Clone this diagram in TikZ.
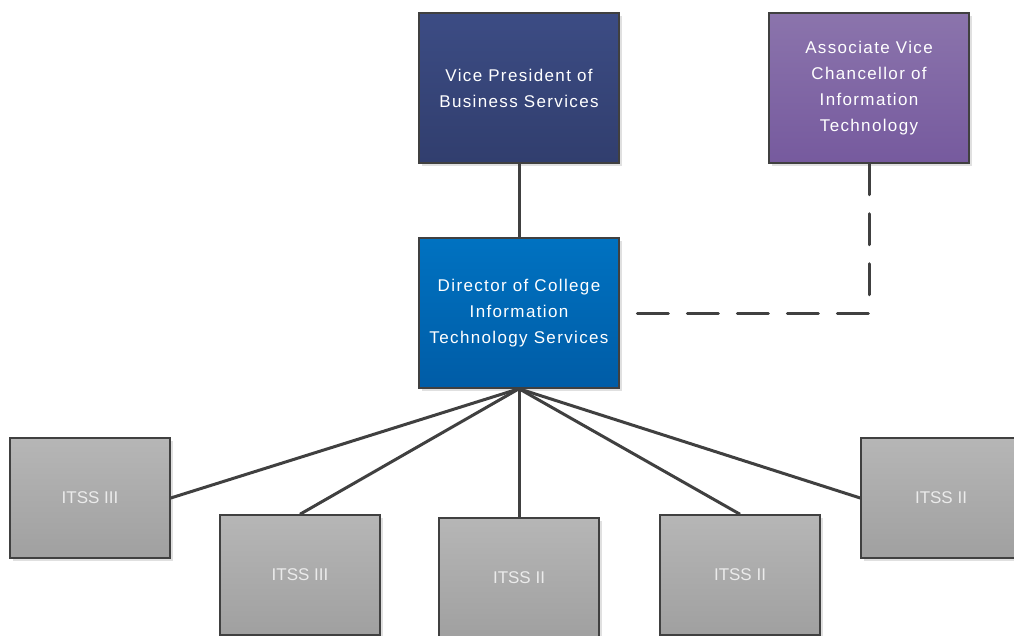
\documentclass[tikz,border=0pt]{standalone}
\usepackage{fontspec}
\setmainfont{Liberation Sans}[LetterSpace=8]
\newfontfamily\itssfont{Liberation Sans}
\usetikzlibrary{shadows}
\definecolor{vptop}{RGB}{60,76,132}
\definecolor{vpbot}{RGB}{49,62,110}
\definecolor{dirtop}{RGB}{0,114,193}
\definecolor{dirbot}{RGB}{0,92,166}
\definecolor{avtop}{RGB}{139,116,172}
\definecolor{avbot}{RGB}{118,90,158}
\definecolor{grtop}{RGB}{182,182,182}
\definecolor{grbot}{RGB}{160,160,160}
\definecolor{edge}{RGB}{64,64,64}
\tikzset{
  box/.style={rectangle, draw=edge, line width=1.5pt, inner sep=0pt, align=center,
    text=white, font=\fontsize{17}{26}\selectfont,
    drop shadow={shadow xshift=3pt, shadow yshift=-3pt, fill=black!12, opacity=1}},
  bigbox/.style={box, minimum width=200pt, minimum height=150pt},
  itss/.style={box, minimum width=160pt, minimum height=120pt, top color=grtop, bottom color=grbot,
    text=white!92!black, font=\itssfont\fontsize{17}{20}\selectfont},
  link/.style={draw=edge, line width=3pt},
  dotlink/.style={draw=edge, line width=3pt, line cap=round, dash pattern=on 31pt off 19pt}
}
\begin{document}
\begin{tikzpicture}[x=1pt,y=-1pt]
\useasboundingbox (0,0) rectangle (1014,636);
\clip (0,0) rectangle (1014,636);
\node[bigbox, top color=vptop, bottom color=vpbot] (vp) at (519,88) {Vice President of\\Business Services};
\node[bigbox, top color=avtop, bottom color=avbot] (av) at (869,88) {Associate Vice\\Chancellor of\\Information\\Technology};
\node[bigbox, top color=dirtop, bottom color=dirbot] (dir) at (519,313) {Director of College\\Information\\Technology Services};
\node[itss] (i1) at (90,498) {ITSS III};
\node[itss] (i2) at (300,575) {ITSS III};
\node[itss] (i3) at (519,578) {ITSS II};
\node[itss] (i4) at (740,575) {ITSS II};
\node[itss] (i5) at (941,498) {ITSS II};
\draw[link] (vp.south) -- (dir.north);
\draw[dotlink] (av.south) |- (dir.east);
\draw[link] (dir.south) -- (i1.east);
\draw[link] (dir.south) -- (i2.north);
\draw[link] (dir.south) -- (i3.north);
\draw[link] (dir.south) -- (i4.north);
\draw[link] (dir.south) -- (i5.west);
\end{tikzpicture}
\end{document}
